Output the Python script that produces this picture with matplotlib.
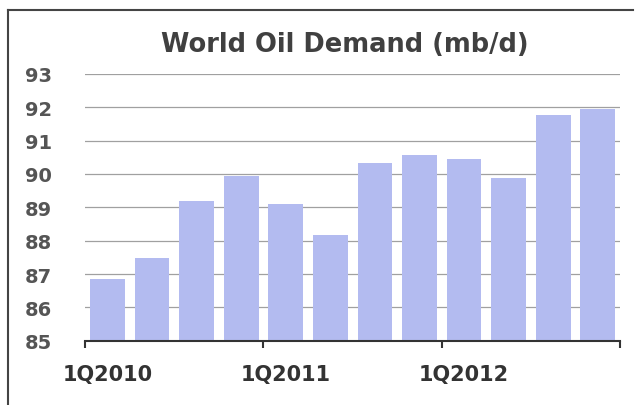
import matplotlib

matplotlib.use("Agg")
import matplotlib.pyplot as plt
from matplotlib.lines import Line2D
import numpy as np

quarters = [
    "1Q2010", "2Q2010", "3Q2010", "4Q2010",
    "1Q2011", "2Q2011", "3Q2011", "4Q2011",
    "1Q2012", "2Q2012", "3Q2012", "4Q2012",
]
demand = [86.85, 87.47, 89.19, 89.93, 89.10, 88.18,
          90.33, 90.56, 90.46, 89.88, 91.78, 91.96]
y_ticks = [85, 86, 87, 88, 89, 90, 91, 92, 93]
label_quarters = ["1Q2010", "1Q2011", "1Q2012"]

fig = plt.figure(figsize=(6.4, 4.06), dpi=100)
ax = fig.add_axes([0.133, 0.1584, 0.836, 0.657])

x = np.arange(len(quarters))
ax.bar(x, [v - 85 for v in demand], bottom=85, width=0.78,
       color="#b3bbf0", zorder=2)

ax.set_ylim(85, 93)
ax.set_xlim(-0.5, len(quarters) - 0.5)

for yv in y_ticks[1:]:
    ax.axhline(yv, color="#a0a0a0", lw=0.9, zorder=1)

ax.set_yticks(y_ticks)
ax.set_yticklabels([str(v) for v in y_ticks], fontsize=14,
                   fontweight="bold", color="#555555")
ax.tick_params(axis="y", length=0, pad=24)

# boundary tick marks every four quarters, labels at first quarter of each year
ax.set_xticks([-0.5, 3.5, 7.5, 11.5])
ax.set_xticklabels([])
ax.tick_params(axis="x", which="major", direction="out", length=5,
               width=1.5, color="#333333")
ax.set_xticks([quarters.index(q) for q in label_quarters], minor=True)
ax.set_xticklabels(label_quarters, minor=True, fontsize=15,
                   fontweight="bold", color="#333333")
ax.tick_params(axis="x", which="minor", length=0, pad=17)

for side in ["left", "right", "top"]:
    ax.spines[side].set_visible(False)
ax.spines["bottom"].set_color("#333333")
ax.spines["bottom"].set_linewidth(1.5)
ax.spines["bottom"].set_zorder(3)

fig.text(0.538, 0.888, "World Oil Demand (mb/d)", ha="center", va="center",
         fontsize=18.5, fontweight="bold", color="#404040")

# outer frame (left and top edges)
fig.add_artist(Line2D([8 / 640, 8 / 640], [0, 1 - 11 / 406],
                      color="#444444", lw=1.5, transform=fig.transFigure))
fig.add_artist(Line2D([8 / 640, 633 / 640], [1 - 11 / 406, 1 - 11 / 406],
                      color="#444444", lw=1.5, transform=fig.transFigure))

fig.savefig("out.png", dpi=100)
plt.close(fig)
